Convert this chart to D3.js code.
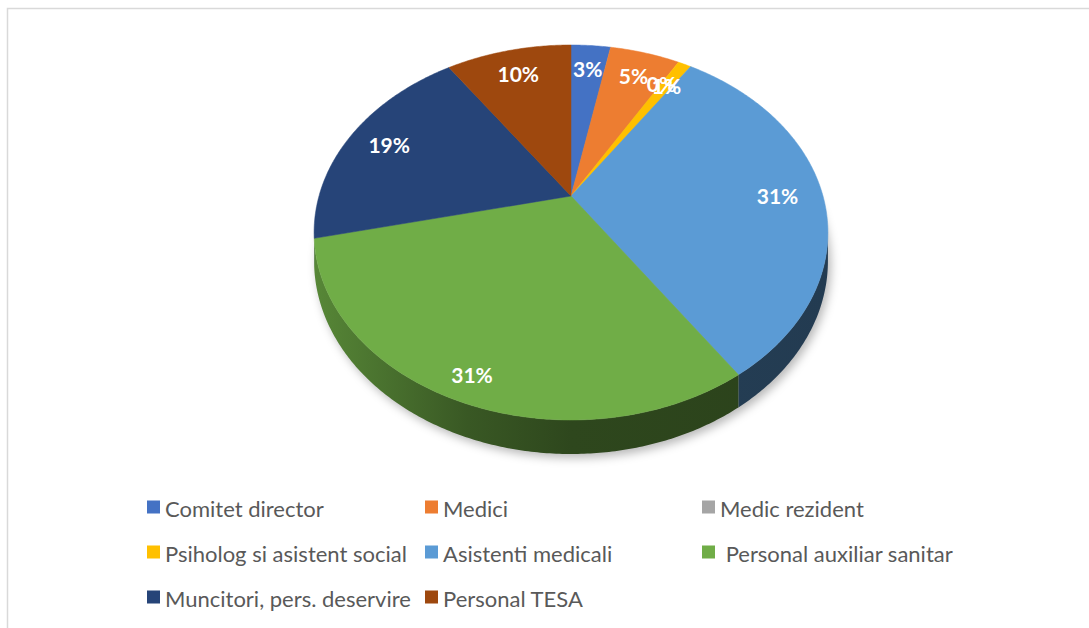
<!DOCTYPE html>
<html>
<head>
<meta charset="utf-8">
<script src="https://cdn.jsdelivr.net/npm/d3@7"></script>
<style>
  body { margin: 0; background: #fff; }
  svg { display: block; }
</style>
</head>
<body>
<svg id="chart" width="1089" height="628"></svg>
<script>
// categories + values (percent of staff)
const categories = ["Comitet director", "Medici", "Medic rezident", "Psiholog si asistent social",
  "Asistenti medicali", " Personal auxiliar sanitar", "Muncitori, pers. deservire", "Personal TESA"];
const values = [3.0, 5.3, 0, 1.0, 31.3, 30.8, 19.1, 9.5];
const colors = ["#4472C4", "#ED7D31", "#A5A5A5", "#FFC000", "#5B9BD5", "#70AD47", "#264478", "#9E480E"];

const W = 1089, H = 628;
const svg = d3.select("#chart");

// 3d pie geometry (perspective tilt)
const cx = 571, cy = 196;
const Rx = 252, Ry = 180.4;
const persp = 0.1946;
const depth = 27.4;

function proj(theta, r, dz) {
  let u = Math.sin(theta) * r, v = -Math.cos(theta) * r;
  let k = 1 / (1 - persp * v);
  return [cx + Rx * u * k, cy + Ry * v * k + dz * k];
}

function arcPoints(a0, a1, dz) {
  let n = Math.max(2, Math.ceil((a1 - a0) / 0.01));
  return d3.range(n + 1).map(i => proj(a0 + (a1 - a0) * i / n, 1, dz));
}

const line = d3.line();
const total = d3.sum(values);
const pie = d3.pie().sort(null).value(d => d)(values);

// frame
svg.append('rect').attr('x', 7.5).attr('y', 8.5).attr('width', W + 20).attr('height', H + 20)
  .attr('fill', 'none').attr('stroke', '#d9d9d9').attr('stroke-width', 1.5);

const defs = svg.append('defs');
defs.append('filter').attr('id', 'shadow').attr('x', '-20%').attr('y', '-20%').attr('width', '140%').attr('height', '140%')
  .append('feGaussianBlur').attr('stdDeviation', 5);

// shadow under the disc
let shadowPts = arcPoints(0, 2 * Math.PI, depth).map(p => [p[0] + 3, p[1] + 4]);
svg.append('path')
  .attr('d', line(shadowPts) + 'Z')
  .attr('fill', '#000').attr('fill-opacity', 0.28)
  .attr('filter', 'url(#shadow)');

// side walls, only the front half is visible
const sideFrom = Math.PI - Math.acos(persp);
const sideTo = Math.PI + Math.acos(persp);
const walls = svg.append('g').attr('class', 'walls');

pie.forEach((d, i) => {
  let a0 = Math.max(d.startAngle, sideFrom), a1 = Math.min(d.endAngle, sideTo);
  if (a1 <= a0) return;
  let base = d3.color(colors[i]);
  let grad = defs.append('linearGradient').attr('id', 'wall' + i)
    .attr('gradientUnits', 'userSpaceOnUse')
    .attr('x1', cx - Rx * 1.02).attr('x2', cx + Rx * 1.02).attr('y1', 0).attr('y2', 0);
  [[0, 0.7], [0.3, 1.9], [0.5, 2.5], [1, 2.7]].forEach(s => {
    grad.append('stop').attr('offset', s[0]).attr('stop-color', base.darker(s[1]).formatHex());
  });
  let top = arcPoints(a0, a1, 0);
  let bottom = arcPoints(a0, a1, depth).reverse();
  walls.append('path')
    .attr('d', line(top.concat(bottom)) + 'Z')
    .attr('fill', 'url(#wall' + i + ')');
});

// top faces
const faces = svg.append('g').attr('class', 'faces');
pie.forEach((d, i) => {
  if (d.endAngle - d.startAngle <= 0) return;
  let pts = [[cx, cy]].concat(arcPoints(d.startAngle, d.endAngle, 0));
  faces.append('path')
    .attr('d', line(pts) + 'Z')
    .attr('fill', colors[i])
    .attr('stroke', colors[i]).attr('stroke-width', 0.5);
});

// data labels (0% and 1% overlap in the original too)
const labels = svg.append('g').attr('class', 'labels');
pie.forEach((d, i) => {
  let mid = (d.startAngle + d.endAngle) / 2;
  let v = -Math.cos(mid);
  let r = 0.82 + 0.08 * Math.max(0, v);
  let p = proj(mid, r, 0);
  labels.append('text')
    .attr('x', p[0]).attr('y', p[1])
    .attr('text-anchor', 'middle').attr('dominant-baseline', 'central')
    .attr('font-family', 'Lato, sans-serif').attr('font-weight', 'bold')
    .attr('font-size', 21).attr('fill', '#fff')
    .text(Math.round(d.value / total * 100) + '%');
});

// legend, 3 columns
const legend = svg.append('g').attr('class', 'legend');
const colX = d3.scaleLinear().domain([0, 1]).range([147, 425]);
const rowY = d3.scaleLinear().domain([0, 1]).range([507, 552]);
categories.forEach((name, i) => {
  let col = i % 3, row = Math.floor(i / 3);
  let x = colX(col) + (col == 2 ? -1 : 0), y = rowY(row);
  let g = legend.append('g').attr('transform', 'translate(' + x + ',' + y + ')');
  g.append('rect').attr('x', 0).attr('y', -6.5).attr('width', 13).attr('height', 13).attr('fill', colors[i]);
  g.append('text')
    .attr('x', 18).attr('y', 1)
    .attr('dominant-baseline', 'central')
    .attr('font-family', 'Lato, sans-serif').attr('font-size', 22)
    .attr('fill', '#595959')
    .style('white-space', 'pre')
    .text(name);
});
</script>
</body>
</html>
